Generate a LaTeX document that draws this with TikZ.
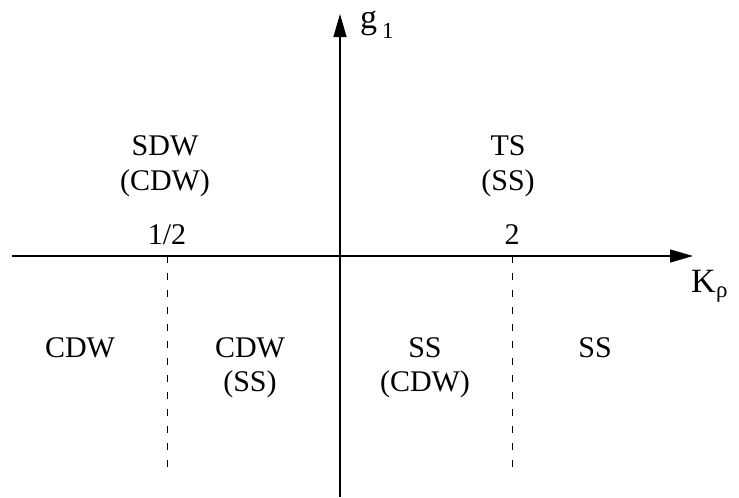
\documentclass[tikz,border=0pt]{standalone}
\usepackage{fontspec}
\setmainfont{Liberation Serif}
\usetikzlibrary{arrows.meta}
\begin{document}
\begin{tikzpicture}[x=1pt,y=-1pt,
  axis/.style={line width=1.3pt,-{Triangle[length=23pt,width=13pt]}},
  divider/.style={line width=1pt,dash pattern=on 7pt off 10pt},
  lbl/.style={font=\fontsize{30}{34}\selectfont,inner sep=0pt,anchor=base,align=center},
  big/.style={font=\fontsize{34}{38}\selectfont,inner sep=0pt,anchor=base west},
  sub/.style={font=\fontsize{23}{26}\selectfont,inner sep=0pt,anchor=base west}]
\useasboundingbox (0,0) rectangle (739,498);
% axes
\coordinate (xs) at (12,256);
\coordinate (xe) at (693,256);
\coordinate (ys) at (340,497);
\coordinate (ye) at (340,14);
\draw[axis] (xs) -- (xe);
\draw[axis] (ys) -- (ye);
% axis labels
\node[big] (g) at (360,28) {g};
\node[sub] (g1) at (382,38) {1};
\node[big] (K) at (691,292) {K};
\node[sub] (Krho) at (716,297) {ρ};
% tick labels
\node[lbl] (half) at (167,244) {1/2};
\node[lbl] (two) at (512,244) {2};
% dashed boundaries
\coordinate (d1t) at (167,256);
\coordinate (d1b) at (167,476);
\coordinate (d2t) at (512,256);
\coordinate (d2b) at (512,476);
\draw[divider] (d1t) -- (d1b);
\draw[divider] (d2t) -- (d2b);
% phase labels, upper half
\node[lbl] (sdw) at (165,155) {SDW};
\node[lbl] (sdwb) at (165,190) {(CDW)};
\node[lbl] (ts) at (508,155) {TS};
\node[lbl] (tsb) at (508,190) {(SS)};
% phase labels, lower half
\node[lbl] (cdw1) at (80,357) {CDW};
\node[lbl] (cdw2) at (250,357) {CDW};
\node[lbl] (cdw2b) at (250,391) {(SS)};
\node[lbl] (ss1) at (425,357) {SS};
\node[lbl] (ss1b) at (425,391) {(CDW)};
\node[lbl] (ss2) at (595,357) {SS};
\end{tikzpicture}
\end{document}
